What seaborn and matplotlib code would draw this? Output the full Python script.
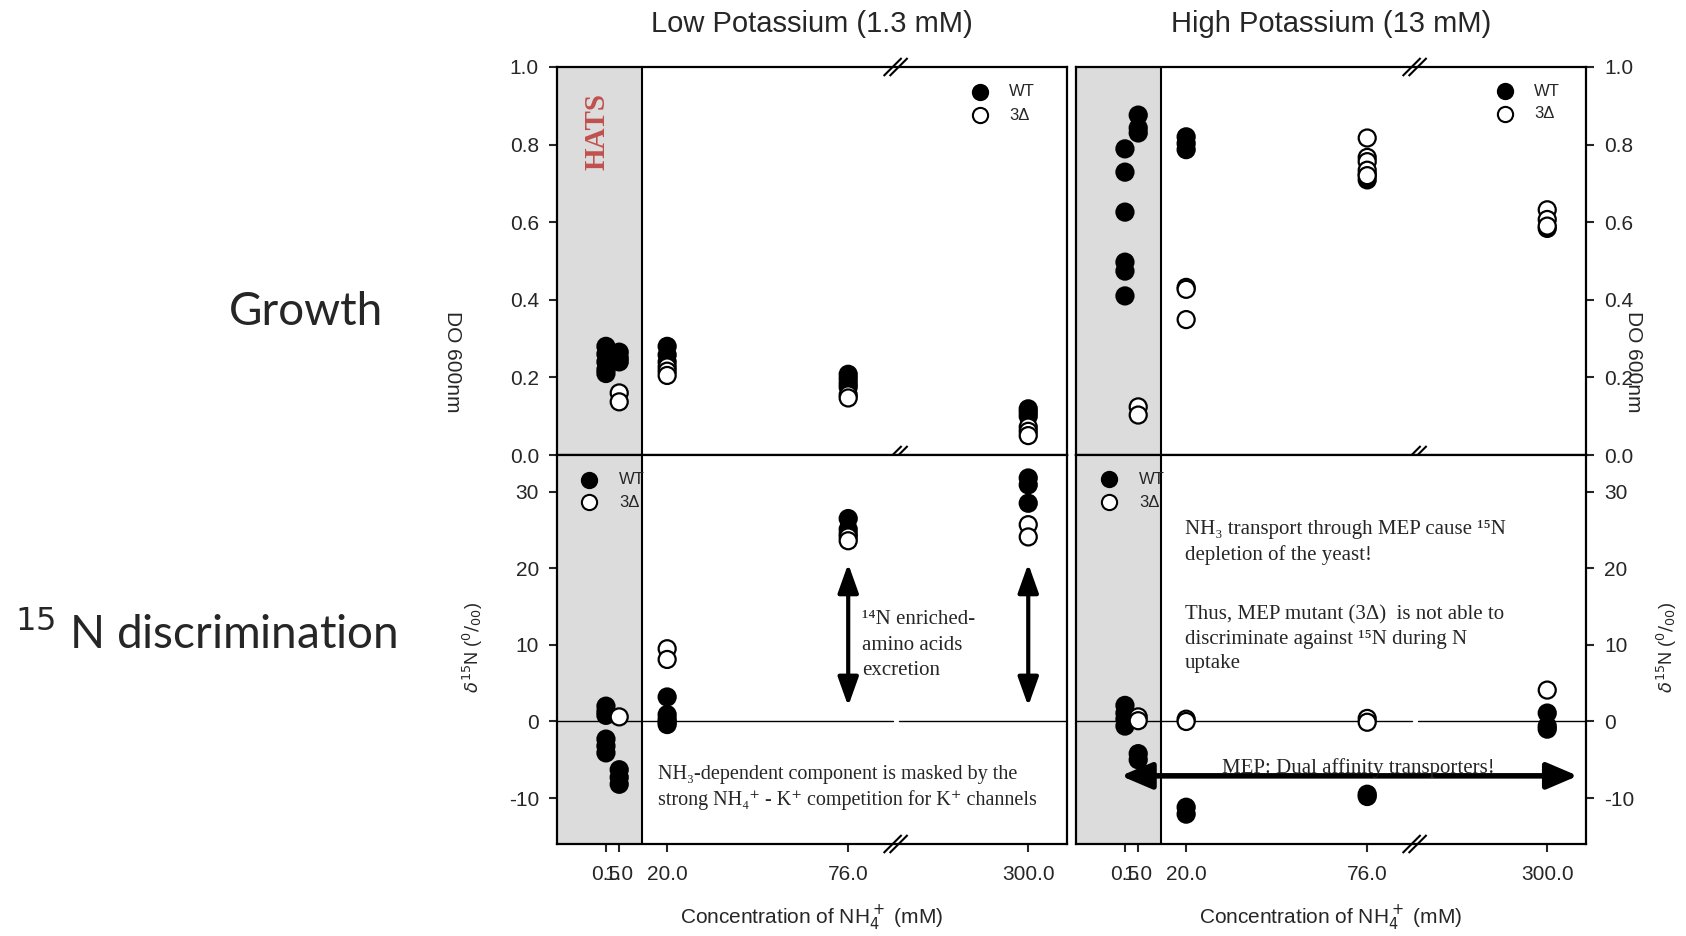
import numpy as np
import pandas as pd
import matplotlib
matplotlib.use("Agg")
import matplotlib.pyplot as plt
import seaborn as sns

# ---------------- data ----------------
x_ticks = [0.5, 1.0, 20.0, 76.0, 300.0]
x_tick_labels = ["0.5", "1.0", "20.0", "76.0", "300.0"]

# Growth (DO 600nm), low potassium
lowK_growth_wt_conc = [0.5]*5 + [1.0]*3 + [20.0]*3 + [76.0]*4 + [300.0]*3
lowK_growth_wt_val = [0.28, 0.26, 0.24, 0.22, 0.21,
                      0.265, 0.25, 0.24,
                      0.28, 0.258, 0.24,
                      0.208, 0.197, 0.185, 0.175,
                      0.119, 0.11, 0.1]
lowK_growth_mut_conc = [1.0]*2 + [20.0]*3 + [76.0]*2 + [300.0]*3
lowK_growth_mut_val = [0.16, 0.137,
                       0.227, 0.216, 0.205,
                       0.155, 0.147,
                       0.072, 0.061, 0.05]

# Growth, high potassium
highK_growth_wt_conc = [0.5]*6 + [1.0]*3 + [20.0]*3 + [76.0]*2 + [300.0]
highK_growth_wt_val = [0.789, 0.729, 0.626, 0.497, 0.474, 0.41,
                       0.876, 0.843, 0.83,
                       0.82, 0.803, 0.787,
                       0.723, 0.709,
                       0.584]
highK_growth_mut_conc = [1.0]*2 + [20.0]*3 + [76.0]*5 + [300.0]*3
highK_growth_mut_val = [0.124, 0.103,
                        0.432, 0.427, 0.349,
                        0.817, 0.767, 0.756, 0.734, 0.72,
                        0.632, 0.607, 0.59]

# delta 15N, low potassium
lowK_d15n_wt_conc = [0.5]*6 + [1.0]*3 + [20.0]*5 + [76.0]*3 + [300.0]*3
lowK_d15n_wt_val = [2.0, 1.3, 0.8, -2.3, -3.2, -4.1,
                    -6.3, -7.3, -8.2,
                    3.2, 0.9, 0.3, -0.1, -0.4,
                    26.5, 25.1, 24.5,
                    31.8, 30.9, 28.5]
lowK_d15n_mut_conc = [1.0] + [20.0]*2 + [76.0]*2 + [300.0]*2
lowK_d15n_mut_val = [0.6, 9.5, 8.1, 24.1, 23.6, 25.7, 24.1]

# delta 15N, high potassium
highK_d15n_wt_conc = [0.5]*4 + [1.0]*2 + [20.0]*2 + [76.0]*2 + [300.0]*3
highK_d15n_wt_val = [2.1, 1.1, 0.3, -0.6,
                     -4.2, -5.0,
                     -11.2, -12.1,
                     -9.5, -9.8,
                     1.1, -0.6, -1.0]
highK_d15n_mut_conc = [1.0]*2 + [20.0]*2 + [76.0]*2 + [300.0]
highK_d15n_mut_val = [0.6, 0.1, 0.3, 0.0, 0.4, -0.1, 4.1]

# ---------------- axis mapping (broken / piecewise scale) ----------------
SCALE_CONC = [0.0, 0.5, 1.0, 20.0, 76.0, 300.0, 340.0]
SCALE_POS = [0.0, 9.6, 12.2, 21.6, 57.1, 92.4, 100.0]
HATS_END = 10.0
BREAK = 135.0


def fwd(x):
    return np.interp(x, SCALE_CONC, SCALE_POS)


def inv(p):
    return np.interp(p, SCALE_POS, SCALE_CONC)


def make_df(wc, wv, mc, mv):
    return pd.DataFrame({
        "conc": list(wc) + list(mc),
        "val": list(wv) + list(mv),
        "geno": ["WT"] * len(wc) + ["3Δ"] * len(mc),
    })


# ---------------- style ----------------
sns.set_style("ticks")
plt.rcParams["font.family"] = ["Liberation Sans", "DejaVu Sans"]
plt.rcParams["axes.linewidth"] = 1.6
plt.rcParams["xtick.major.width"] = 1.5
plt.rcParams["ytick.major.width"] = 1.5
plt.rcParams["axes.unicode_minus"] = False

fig = plt.figure(figsize=(16.86, 9.36), dpi=100)
W, H = 1686, 936
LX = [557 / W, 1076 / W]
AW = 510 / W
TOP_B, TOP_H = 1 - 455 / H, 388 / H
BOT_B, BOT_H = 1 - 844 / H, 389 / H

ax_tl = fig.add_axes([LX[0], TOP_B, AW, TOP_H])
ax_tr = fig.add_axes([LX[1], TOP_B, AW, TOP_H])
ax_bl = fig.add_axes([LX[0], BOT_B, AW, BOT_H])
ax_br = fig.add_axes([LX[1], BOT_B, AW, BOT_H])

panels = [
    (ax_tl, make_df(lowK_growth_wt_conc, lowK_growth_wt_val, lowK_growth_mut_conc, lowK_growth_mut_val), "top", "left"),
    (ax_tr, make_df(highK_growth_wt_conc, highK_growth_wt_val, highK_growth_mut_conc, highK_growth_mut_val), "top", "right"),
    (ax_bl, make_df(lowK_d15n_wt_conc, lowK_d15n_wt_val, lowK_d15n_mut_conc, lowK_d15n_mut_val), "bot", "left"),
    (ax_br, make_df(highK_d15n_wt_conc, highK_d15n_wt_val, highK_d15n_mut_conc, highK_d15n_mut_val), "bot", "right"),
]

palette = {"WT": "black", "3Δ": "white"}
shade = "#dcdcdc"


def break_marks(ax, yfrac):
    bb = ax.get_position()
    wpx, hpx = bb.width * W, bb.height * H
    xb = fwd(BREAK) / 100.0
    for off in (-3.0, 3.0):
        ax.plot([xb + (off - 9) / wpx, xb + (off + 9) / wpx],
                [yfrac - 9 / hpx, yfrac + 9 / hpx],
                transform=ax.transAxes, color="black", lw=1.5,
                clip_on=False, zorder=6, solid_capstyle="butt")


for ax, df, row, side in panels:
    ax.set_xscale("function", functions=(fwd, inv))
    ax.set_xlim(0, 340)
    ax.axvspan(0, HATS_END, color=shade, zorder=0, lw=0)
    ax.axvline(HATS_END, color="black", lw=1.5, zorder=1)
    sns.scatterplot(data=df, x="conc", y="val", hue="geno", palette=palette,
                    edgecolor="black", linewidth=1.6, s=150, legend=False,
                    ax=ax, zorder=4, clip_on=False)
    ax.set_xlabel("")
    ax.set_ylabel("")
    ax.set_xticks(x_ticks)
    ax.tick_params(axis="both", direction="out", length=6, labelsize=15, pad=7)
    ax.tick_params(axis="x", pad=9)
    ax.minorticks_off()
    for s in ["top", "right", "left", "bottom"]:
        ax.spines[s].set_visible(True)
        ax.spines[s].set_color("black")
    if row == "top":
        ax.set_ylim(0, 1.0)
        ax.set_yticks([0.0, 0.2, 0.4, 0.6, 0.8, 1.0])
        ax.set_yticklabels(["0.0", "0.2", "0.4", "0.6", "0.8", "1.0"])
        ax.set_xticklabels([])
        break_marks(ax, 1.0)
        break_marks(ax, 0.0)
    else:
        ax.set_ylim(-16, 34.8)
        ax.set_yticks([-10, 0, 10, 20, 30])
        ax.set_yticklabels(["-10", "0", "10", "20", "30"])
        ax.set_xticklabels(x_tick_labels)
        break_marks(ax, 0.0)
        bb = ax.get_position()
        xb = fwd(BREAK) / 100.0
        gap = 3.0 / (bb.width * W)
        tr = ax.get_yaxis_transform()
        ax.plot([0, xb - gap], [0, 0], transform=tr, color="black", lw=1.0, zorder=2)
        ax.plot([xb + gap, 1], [0, 0], transform=tr, color="black", lw=1.0, zorder=2)
        ax.set_xlabel("Concentration of NH$_4^+$ (mM)", fontsize=15, labelpad=14)
    if side == "right":
        ax.yaxis.tick_right()
        ax.tick_params(axis="y", left=False, right=True, labelleft=False, labelright=True)

# legends (drawn manually)
leg_pos = {ax_tl: (0.829, 0.886, 0.936, 0.876),
           ax_tr: (0.841, 0.898, 0.938, 0.879),
           ax_bl: (0.063, 0.122, 0.936, 0.879),
           ax_br: (0.065, 0.124, 0.938, 0.879)}
for ax, (mx, tx, y1, y2) in leg_pos.items():
    ax.scatter([mx], [y1], s=120, facecolor="black", edgecolor="black", lw=1.5,
               transform=ax.transAxes, zorder=6, clip_on=False)
    ax.scatter([mx], [y2], s=120, facecolor="white", edgecolor="black", lw=1.5,
               transform=ax.transAxes, zorder=6, clip_on=False)
    ax.text(tx, y1, "WT", transform=ax.transAxes, fontsize=12, va="center", ha="left")
    ax.text(tx, y2, "3Δ", transform=ax.transAxes, fontsize=12, va="center", ha="left")

# HATS label
ax_tl.text(0.078, 0.835, "HATS", transform=ax_tl.transAxes, rotation=90,
           color="#c0504d", fontsize=21, fontweight="bold",
           family=["Liberation Serif", "DejaVu Serif"], ha="center", va="center")

serif = ["Liberation Serif", "DejaVu Serif"]
arrow_v = dict(arrowstyle="<|-|>,head_length=0.7,head_width=0.25", mutation_scale=25,
               lw=3, color="black", shrinkA=0, shrinkB=0)
for xc in (76.0, 300.0):
    ax_bl.annotate("", xy=(xc, 20.6), xytext=(xc, 2.0), arrowprops=arrow_v, zorder=5)

ax_bl.text(0.598, 0.511, "¹⁴N enriched-\namino acids\nexcretion", transform=ax_bl.transAxes,
           fontsize=15, family=serif, ha="left", va="center", linespacing=1.45)
ax_bl.text(0.198, 0.145, "NH₃-dependent component is masked by the\nstrong NH₄⁺ - K⁺ competition for K⁺ channels",
           transform=ax_bl.transAxes, fontsize=14.5, family=serif, ha="left", va="center",
           linespacing=1.38)

ax_br.text(0.214, 0.776, "NH₃ transport through MEP cause ¹⁵N\ndepletion of the yeast!",
           transform=ax_br.transAxes, fontsize=15, family=serif, ha="left", va="center",
           linespacing=1.4)
ax_br.text(0.214, 0.527, "Thus, MEP mutant (3Δ)  is not able to\ndiscriminate against ¹⁵N during N\nuptake",
           transform=ax_br.transAxes, fontsize=15, family=serif, ha="left", va="center",
           linespacing=1.4)
arrow_h = dict(arrowstyle="<|-|>,head_length=0.75,head_width=0.32", mutation_scale=25,
               lw=4, color="black", shrinkA=0, shrinkB=0)
ax_br.annotate("", xy=(0.984, -7.1), xytext=(0.088, -7.1),
               xycoords=("axes fraction", "data"), textcoords=("axes fraction", "data"),
               arrowprops=arrow_h, zorder=5, annotation_clip=False)
ax_br.text(0.553, 0.196, "MEP: Dual affinity transporters!", transform=ax_br.transAxes,
           fontsize=15, family=serif, ha="center", va="center", zorder=6)

# titles and row labels
fig.text((557 + 255) / W, 1 - 24 / H, "Low Potassium (1.3 mM)", fontsize=21, ha="center", va="center")
fig.text((1076 + 255) / W, 1 - 24 / H, "High Potassium (13 mM)", fontsize=21, ha="center", va="center")
fig.text(306 / W, 1 - 312 / H, "Growth", fontsize=33, family=["Lato", "DejaVu Sans"],
         ha="center", va="center")
fig.text(15 / W, 1 - 634 / H, "$^{15}$ N discrimination", fontsize=33,
         family=["Lato", "DejaVu Sans"], ha="left", va="center")

# y labels
fig.text(452 / W, 1 - 362 / H, "DO 600nm", rotation=270, fontsize=15, ha="center", va="center")
fig.text(1634 / W, 1 - 362 / H, "DO 600nm", rotation=270, fontsize=15, ha="center", va="center")
fig.text(473 / W, 1 - 647 / H, r"$\delta^{15}$N ($^{0}/_{00}$)", rotation=90, fontsize=13,
         ha="center", va="center")
fig.text(1667 / W, 1 - 647 / H, r"$\delta^{15}$N ($^{0}/_{00}$)", rotation=90, fontsize=13,
         ha="center", va="center")

fig.savefig("out.png", dpi=100)
